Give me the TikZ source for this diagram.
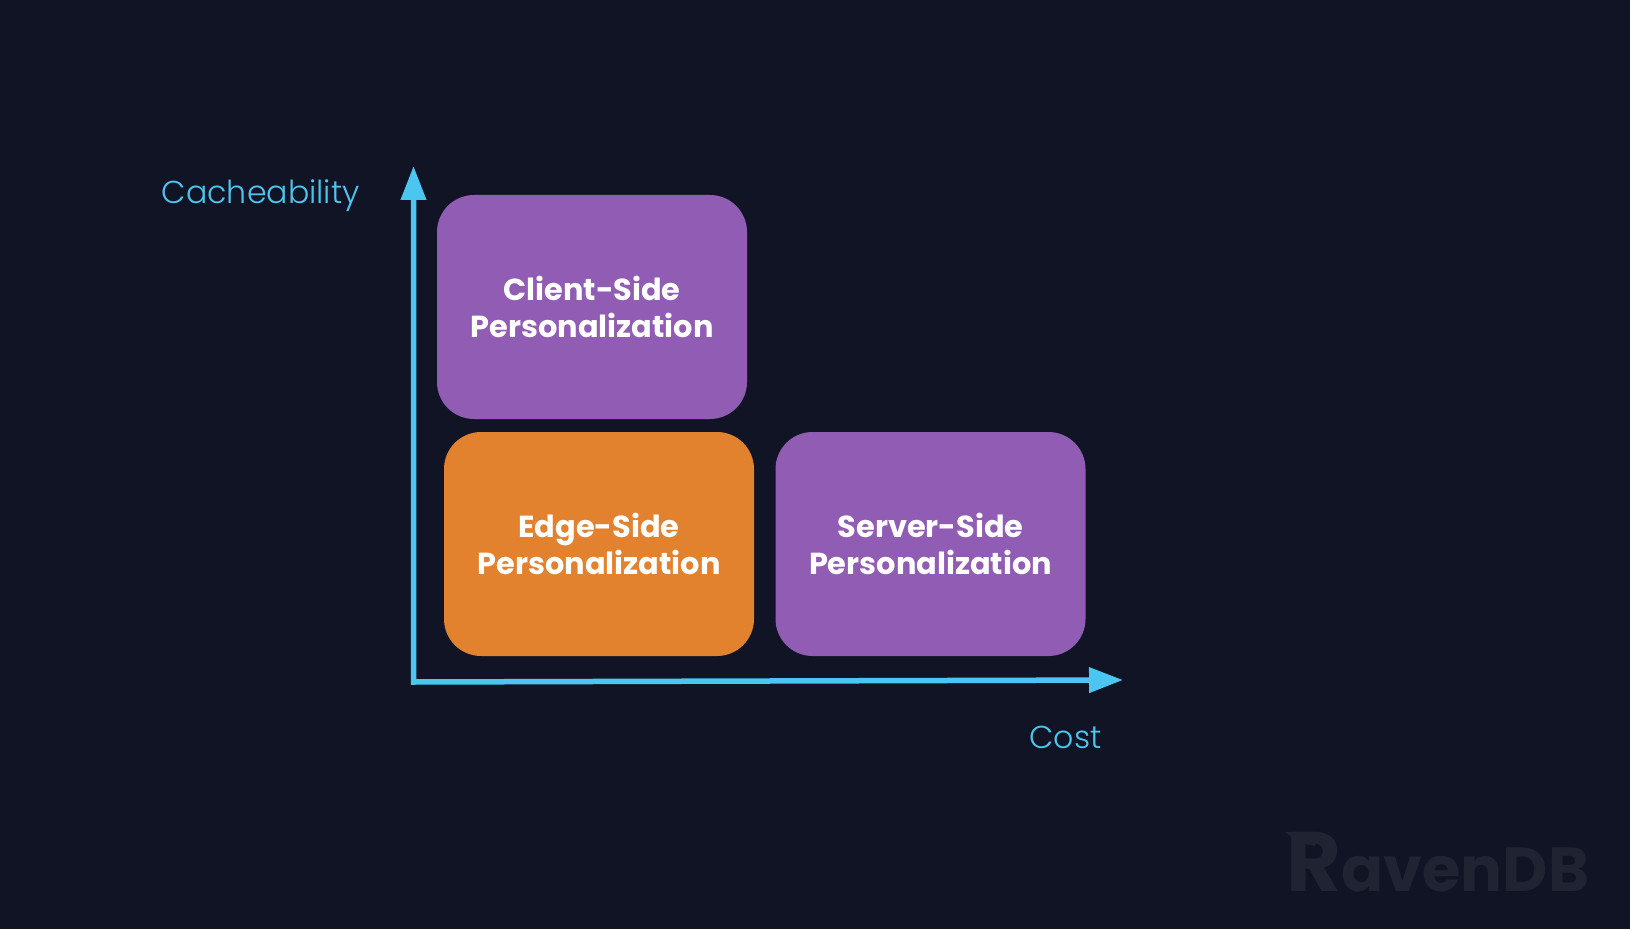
\documentclass[tikz,border=0pt]{standalone}
\usepackage{fontspec}
\setmainfont{Poppins}
\newfontfamily\lightfont[UprightFont=* Light]{Poppins}
\usetikzlibrary{arrows.meta}
\definecolor{pagebg}{HTML}{101425}
\definecolor{axisblue}{HTML}{4BC6F0}
\definecolor{boxpurple}{HTML}{915CB4}
\definecolor{boxorange}{HTML}{E2822F}
\definecolor{logogray}{HTML}{1F2332}
\tikzset{
  stagebox/.style={rounded corners=0.74cm, minimum width=6.2cm, minimum height=4.48cm,
    text=white, align=center, inner sep=0pt, font=\fontsize{17.3}{21}\selectfont\bfseries},
  axislabel/.style={text=axisblue, inner sep=0pt, anchor=base west,
    font=\lightfont\fontsize{18}{21}\selectfont},
}
\begin{document}
\begin{tikzpicture}

% =====================
% Page background
% =====================
\fill[pagebg] (0,0) rectangle (32.6,18.58);

% =====================
% Axes
% =====================
\coordinate (ytop) at (8.27,15.26);
\coordinate (origin) at (8.27,4.94);
\coordinate (xend) at (22.46,4.98);
\draw[axisblue, line width=0.11cm, line join=miter,
  {Triangle[length=0.68cm,width=0.49cm]}-{Triangle[length=0.68cm,width=0.49cm]}]
  (ytop) -- (origin) -- (xend);

% =====================
% Axis labels
% =====================
\node[axislabel] (ylabel) at (3.23,14.51) {Cacheability};
\node[axislabel] (xlabel) at (20.58,3.61) {Cost};

% =====================
% Boxes
% =====================
\node[stagebox, fill=boxpurple] (client) at (11.84,12.44) {Client-Side\\Personalization};
\node[stagebox, fill=boxorange] (edge) at (11.98,7.70) {Edge-Side\\Personalization};
\node[stagebox, fill=boxpurple] (server) at (18.61,7.70) {Server-Side\\Personalization};

% =====================
% Watermark
% =====================
\fill[logogray] (25.7,1.94) -- (26.3,1.94) -- (26.3,1.66) -- (25.98,1.72) -- cycle;
\node[text=logogray, inner sep=0pt, anchor=base west,
  font=\fontsize{35.4}{38}\selectfont\bfseries] (logo) at (25.72,0.76)
  {{\fontsize{48}{48}\selectfont R}avenDB};
\end{tikzpicture}
\end{document}
